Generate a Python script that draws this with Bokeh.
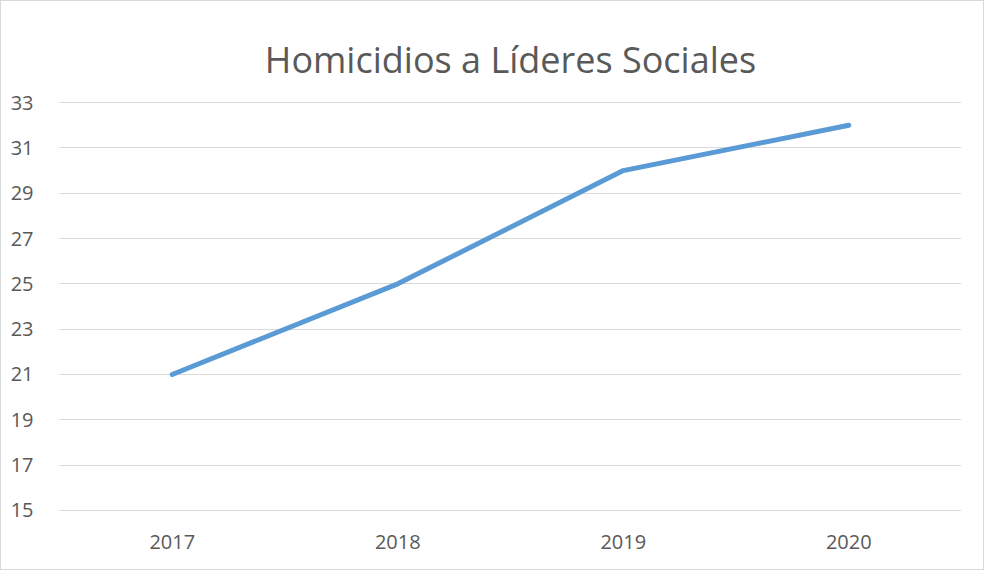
from bokeh.plotting import figure
from bokeh.models import Range1d, FixedTicker, ColumnDataSource
from bokeh.embed import file_html
from bokeh.resources import INLINE

years = ["2017", "2018", "2019", "2020"]
homicidios = [21, 25, 30, 32]
y_ticks = [15, 17, 19, 21, 23, 25, 27, 29, 31, 33]
title_text = "Homicidios a Líderes Sociales"

FONT = "Open Sans"
TXT = "#595959"
PAD = 0.05

src = ColumnDataSource(dict(x=years, y=homicidios))

p = figure(width=984, height=570, x_range=years,
           y_range=Range1d(y_ticks[0] - PAD, y_ticks[-1] + PAD),
           output_backend="svg", toolbar_location=None,
           min_border_left=58, min_border_right=24, min_border_top=100, min_border_bottom=60,
           styles={"border": "1px solid #d9d9d9"})

p.title.text = title_text
p.title.align = "center"
p.title.vertical_align = "middle"
p.title.text_font = FONT
p.title.text_font_size = "36px"
p.title.text_font_style = "normal"
p.title.text_color = TXT
p.title.standoff = 34

p.line("x", "y", source=src, line_color="#5B9BD5", line_width=5, line_cap="round", line_join="round")

p.outline_line_color = None
p.xgrid.grid_line_color = None
p.ygrid.grid_line_color = "#d9d9d9"
p.ygrid.grid_line_width = 1

p.yaxis.ticker = FixedTicker(ticks=y_ticks)
for ax in (p.xaxis[0], p.yaxis[0]):
    ax.axis_line_color = None
    ax.major_tick_line_color = None
    ax.minor_tick_line_color = None
    ax.major_label_text_font = FONT
    ax.major_label_text_font_size = "20px"
    ax.major_label_text_color = TXT
p.yaxis.major_label_standoff = 20
p.xaxis.major_label_standoff = 17

open("out.html", "w").write(file_html(p, INLINE))
